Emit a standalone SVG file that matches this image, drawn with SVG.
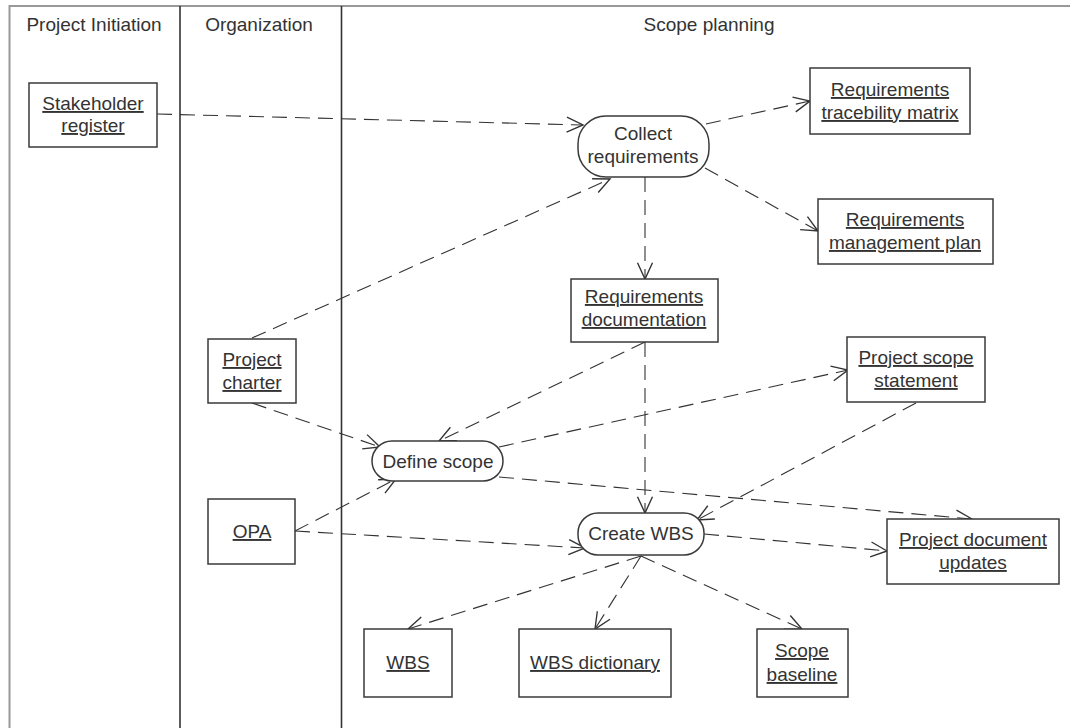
<svg xmlns="http://www.w3.org/2000/svg" width="1070" height="728" viewBox="0 0 1070 728">
  <style>
    text { font-family: "Liberation Sans", Arial, sans-serif; font-size: 19px; fill: #333; text-anchor: middle; }
    .doc { text-decoration: underline; }
    .box { fill: #fff; stroke: #3a3a3a; stroke-width: 1.5; }
    .proc { fill: #fff; stroke: #3a3a3a; stroke-width: 1.5; }
    .lane { stroke: #333; stroke-width: 1.6; fill: none; }
    .frame { stroke: #999; stroke-width: 2; fill: none; }
    .flow { fill: none; stroke: #333; stroke-width: 1.1; stroke-dasharray: 15 8; marker-end: url(#open); }
  </style>
  <defs>
    <marker id="open" markerUnits="userSpaceOnUse" markerWidth="20" markerHeight="20" viewBox="-14 -8 16 16" refX="0" refY="0" orient="auto" overflow="visible">
      <path d="M-13,-6 L0,0 L-13,6" fill="none" stroke="#333" stroke-width="1.1" stroke-dasharray="none"/>
    </marker>
  </defs>

  <rect width="1070" height="728" fill="#fff"/>

  <!-- swimlane frame -->
  <g id="lanes">
    <path class="frame" d="M9.5,740 V6 H1080"/>
    <line class="lane" x1="180" y1="6" x2="180" y2="740"/>
    <line class="lane" x1="341.5" y1="6" x2="341.5" y2="740"/>
    <text x="94" y="31">Project Initiation</text>
    <text x="259" y="31">Organization</text>
    <text x="709" y="31">Scope planning</text>
  </g>

  <!-- connectors -->
  <g id="connectors">
    <line class="flow" x1="157" y1="114" x2="583" y2="125"/>
    <line class="flow" x1="706" y1="124" x2="810" y2="101"/>
    <line class="flow" x1="705" y1="168" x2="818" y2="231"/>
    <line class="flow" x1="645" y1="177" x2="645" y2="279"/>
    <line class="flow" x1="252" y1="338" x2="610" y2="179"/>
    <line class="flow" x1="252" y1="403" x2="380" y2="447"/>
    <line class="flow" x1="645" y1="342" x2="439" y2="441"/>
    <line class="flow" x1="645" y1="342" x2="645" y2="513"/>
    <line class="flow" x1="499" y1="447" x2="848" y2="370"/>
    <line class="flow" x1="499" y1="477" x2="972" y2="519"/>
    <line class="flow" x1="916" y1="403" x2="697" y2="520"/>
    <line class="flow" x1="295" y1="531" x2="396" y2="479"/>
    <line class="flow" x1="295" y1="531" x2="585" y2="548"/>
    <line class="flow" x1="704" y1="534" x2="887" y2="551"/>
    <line class="flow" x1="641" y1="556" x2="408" y2="629"/>
    <line class="flow" x1="641" y1="556" x2="595" y2="629"/>
    <line class="flow" x1="641" y1="556" x2="802" y2="629"/>
  </g>

  <!-- nodes -->
  <g id="stakeholder-register">
    <rect class="box" x="29" y="83" width="128" height="64"/>
    <text class="doc" x="93" y="110">Stakeholder</text>
    <text class="doc" x="93" y="132">register</text>
  </g>
  <g id="collect-requirements">
    <rect class="proc" x="578" y="116" width="131" height="61" rx="28" ry="28"/>
    <text x="643" y="140">Collect</text>
    <text x="643" y="163">requirements</text>
  </g>
  <g id="requirements-traceability-matrix">
    <rect class="box" x="810" y="68" width="160" height="66"/>
    <text class="doc" x="890" y="96">Requirements</text>
    <text class="doc" x="890" y="119">tracebility matrix</text>
  </g>
  <g id="requirements-management-plan">
    <rect class="box" x="818" y="199" width="175" height="65"/>
    <text class="doc" x="905" y="226">Requirements</text>
    <text class="doc" x="905" y="249">management plan</text>
  </g>
  <g id="requirements-documentation">
    <rect class="box" x="571" y="279" width="147" height="63"/>
    <text class="doc" x="644" y="303">Requirements</text>
    <text class="doc" x="644" y="326">documentation</text>
  </g>
  <g id="project-scope-statement">
    <rect class="box" x="847" y="337" width="138" height="65"/>
    <text class="doc" x="916" y="364">Project scope</text>
    <text class="doc" x="916" y="387">statement</text>
  </g>
  <g id="project-charter">
    <rect class="box" x="208" y="339" width="88" height="64"/>
    <text class="doc" x="252" y="366">Project</text>
    <text class="doc" x="252" y="389">charter</text>
  </g>
  <g id="define-scope">
    <rect class="proc" x="372" y="441" width="131" height="40" rx="20" ry="20"/>
    <text x="438" y="468">Define scope</text>
  </g>
  <g id="opa">
    <rect class="box" x="208" y="499" width="87" height="65"/>
    <text class="doc" x="252" y="538">OPA</text>
  </g>
  <g id="create-wbs">
    <rect class="proc" x="578" y="513" width="126" height="42" rx="20" ry="20"/>
    <text x="641" y="540">Create WBS</text>
  </g>
  <g id="project-document-updates">
    <rect class="box" x="887" y="519" width="172" height="65"/>
    <text class="doc" x="973" y="546">Project document</text>
    <text class="doc" x="973" y="569">updates</text>
  </g>
  <g id="wbs">
    <rect class="box" x="364" y="629" width="88" height="68"/>
    <text class="doc" x="408" y="669">WBS</text>
  </g>
  <g id="wbs-dictionary">
    <rect class="box" x="519" y="629" width="152" height="68"/>
    <text class="doc" x="595" y="669">WBS dictionary</text>
  </g>
  <g id="scope-baseline">
    <rect class="box" x="757" y="629" width="91" height="68"/>
    <text class="doc" x="802" y="657">Scope</text>
    <text class="doc" x="802" y="681">baseline</text>
  </g>
</svg>
